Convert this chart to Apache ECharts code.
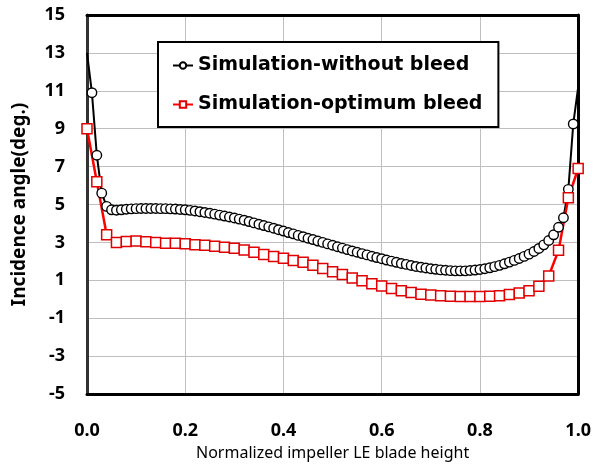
<!DOCTYPE html>
<html>
<head>
<meta charset="utf-8">
<script src="https://cdn.jsdelivr.net/npm/echarts@6/dist/echarts.min.js"></script>
<style>
  html, body { margin: 0; padding: 0; background: #fff; }
  #chart { width: 594px; height: 466px; }
</style>
</head>
<body>
<div id="chart"></div>
<script>
// x positions (normalized blade height)
const xNoBleed = [];
for (let i = 0; i <= 100; i++) xNoBleed.push(i / 100);
const xOptBleed = [];
for (let i = 0; i <= 50; i++) xOptBleed.push(i / 50);

// incidence angle
const noBleed = [
  13.0, 10.9, 7.6, 5.6, 4.9, 4.72, 4.7, 4.72, 4.75, 4.77,
  4.78, 4.79, 4.79, 4.79, 4.79, 4.78, 4.78, 4.77, 4.76, 4.74,
  4.72, 4.69, 4.66, 4.62, 4.58, 4.54, 4.49, 4.44, 4.39, 4.34,
  4.29, 4.23, 4.17, 4.10, 4.03, 3.96, 3.89, 3.82, 3.75, 3.67,
  3.60, 3.52, 3.45, 3.37, 3.30, 3.22, 3.15, 3.07, 3.00, 2.92,
  2.85, 2.77, 2.70, 2.62, 2.55, 2.48, 2.41, 2.34, 2.27, 2.20,
  2.14, 2.07, 2.01, 1.95, 1.89, 1.84, 1.78, 1.73, 1.69, 1.65,
  1.61, 1.58, 1.55, 1.53, 1.51, 1.50, 1.50, 1.50, 1.52, 1.54,
  1.57, 1.61, 1.66, 1.72, 1.79, 1.87, 1.96, 2.05, 2.15, 2.26,
  2.38, 2.52, 2.68, 2.87, 3.10, 3.40, 3.80, 4.30, 5.80, 9.25,
  11.2
];
const optBleed = [
  9.0, 6.2, 3.4, 3.0, 3.05, 3.07, 3.04, 3.0, 2.96, 2.95,
  2.93, 2.88, 2.85, 2.80, 2.75, 2.69, 2.60, 2.48, 2.36, 2.26,
  2.16, 2.05, 1.95, 1.80, 1.62, 1.45, 1.30, 1.12, 0.98, 0.82,
  0.70, 0.57, 0.45, 0.35, 0.27, 0.22, 0.18, 0.16, 0.15, 0.14,
  0.15, 0.16, 0.19, 0.25, 0.33, 0.45, 0.68, 1.23, 2.58, 5.35,
  6.9
];

const yMin = -5, yMax = 15, yStep = 2;
const xTickStep = 0.2;
const seriesNames = ['Simulation-without bleed', 'Simulation-optimum bleed'];

// ECharts starts interval ticks at multiples of the interval, so the
// y axis runs from 0 and labels are shifted back by yMin
const shift = v => v - yMin;

const chart = echarts.init(document.getElementById('chart'));

const blackData = xNoBleed.map((x, i) => {
  const p = { value: [x, shift(noBleed[i])] };
  if (i === 0 || i === xNoBleed.length - 1) p.symbol = 'none';
  return p;
});
const redData = xOptBleed.map((x, i) => [x, shift(optBleed[i])]);

// frame lines (plot border)
const frame = { show: true, onZero: false, lineStyle: { color: '#000', width: 3 } };

chart.setOption({
  animation: false,
  textStyle: { fontFamily: 'Noto Sans' },
  grid: { left: 87, right: 12, top: 15, bottom: 66 },
  legend: {
    data: seriesNames,
    orient: 'vertical',
    left: 158,
    top: 42,
    padding: [14, 16, 13, 14],
    itemGap: 20,
    itemWidth: 20,
    itemHeight: 8,
    backgroundColor: '#fff',
    borderColor: '#000',
    borderWidth: 2,
    textStyle: { color: '#000', fontWeight: 'bold', fontSize: 19, fontFamily: 'DejaVu Sans' }
  },
  xAxis: [{
    type: 'value',
    min: 0,
    max: 1,
    interval: xTickStep,
    name: 'Normalized impeller LE blade height',
    nameLocation: 'middle',
    nameGap: 51,
    nameTextStyle: { color: '#000', fontSize: 16 },
    axisLine: frame,
    axisTick: { show: false },
    axisLabel: {
      color: '#000', fontWeight: 'bold', fontSize: 18, margin: 28,
      formatter: v => v.toFixed(1)
    },
    splitLine: { lineStyle: { color: '#bfbfbf', width: 1 } }
  }, {
    type: 'value', position: 'top', min: 0, max: 1,
    axisLine: frame, axisTick: { show: false },
    axisLabel: { show: false }, splitLine: { show: false }
  }],
  yAxis: [{
    type: 'value',
    min: shift(yMin),
    max: shift(yMax),
    interval: yStep,
    name: 'Incidence angle(deg.)',
    nameLocation: 'middle',
    nameGap: 58,
    nameTextStyle: { color: '#000', fontWeight: 'bold', fontSize: 19 },
    axisLine: { show: true, onZero: false, lineStyle: { color: '#333', width: 3 } },
    axisTick: { show: false },
    axisLabel: {
      color: '#000', fontWeight: 'bold', fontSize: 18, margin: 22,
      formatter: v => String(v + yMin)
    },
    splitLine: { lineStyle: { color: '#bfbfbf', width: 1 } }
  }, {
    type: 'value', position: 'right', min: shift(yMin), max: shift(yMax),
    axisLine: frame, axisTick: { show: false },
    axisLabel: { show: false }, splitLine: { show: false }
  }],
  series: [
    {
      name: seriesNames[0],
      type: 'line',
      data: blackData,
      clip: false,
      showAllSymbol: true,
      symbol: 'circle',
      symbolSize: 9.5,
      lineStyle: { color: '#000', width: 2 },
      itemStyle: { color: '#fff', borderColor: '#000', borderWidth: 1.4 }
    },
    {
      name: seriesNames[1],
      type: 'line',
      data: redData,
      clip: false,
      showAllSymbol: true,
      symbol: 'rect',
      symbolSize: 10,
      lineStyle: { color: '#ff0000', width: 2.5 },
      itemStyle: { color: '#fff', borderColor: '#e00000', borderWidth: 1.5 }
    }
  ]
});
</script>
</body>
</html>
